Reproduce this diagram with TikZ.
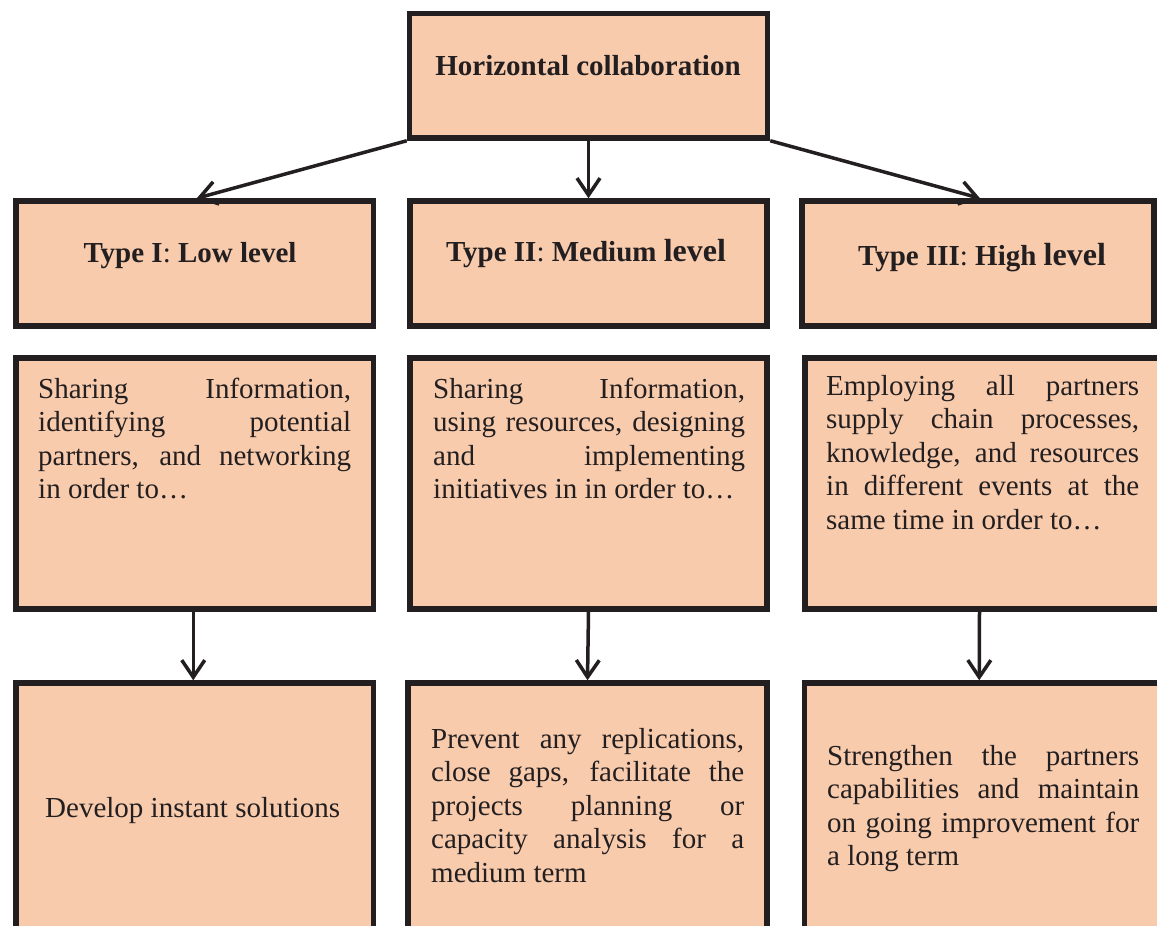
\documentclass[tikz,border=0pt]{standalone}
\usepackage{fontspec}
\setmainfont{Liberation Serif}
\usetikzlibrary{arrows.meta}
\definecolor{boxfill}{HTML}{F8CBAD}
\definecolor{ink}{HTML}{231F20}
\hyphenpenalty=10000
\exhyphenpenalty=10000
\tikzset{
  panel/.style={draw=ink, fill=boxfill, line width=5.5pt, rectangle, inner sep=0pt},
  arr/.style={draw=ink, line width=3.5pt, -{Straight Barb[length=17pt,width=23pt]}},
  head/.style={inner sep=0pt, text=ink, font=\fontsize{29}{33.5}\selectfont\bfseries, anchor=base},
  body/.style={inner sep=0pt, text=ink, anchor=north west, text width=313pt, align=justify,
               font=\fontsize{29}{33.5}\selectfont},
}
\newcommand{\bigword}[1]{{\fontsize{32}{33.5}\selectfont #1}}
\begin{document}
\begin{tikzpicture}[x=1pt,y=-1pt]
  \clip (0,0) rectangle (1157,926);
  \fill[white] (0,0) rectangle (1157,926);

  % top box
  \node[panel, minimum width=358pt, minimum height=124.5pt] (top) at (588.5,75.75) {};
  % level boxes
  \node[panel, minimum width=357.5pt, minimum height=125pt] (t1) at (194.75,263.5) {};
  \node[panel, minimum width=357pt, minimum height=125pt] (t2) at (588.5,263.5) {};
  \node[panel, minimum width=352pt, minimum height=125pt] (t3) at (978,263.5) {};
  % activity boxes
  \node[panel, minimum width=357.5pt, minimum height=251pt] (a1) at (194.75,483.5) {};
  \node[panel, minimum width=357pt, minimum height=251pt] (a2) at (588.5,483.5) {};
  \node[panel, minimum width=359pt, minimum height=251pt] (a3) at (984.5,483.5) {};
  % outcome boxes
  \node[panel, minimum width=357.5pt, minimum height=257pt] (o1) at (194.75,811.5) {};
  \node[panel, minimum width=359pt, minimum height=257pt] (o2) at (587.5,811.5) {};
  \node[panel, minimum width=359.5pt, minimum height=257pt] (o3) at (984.25,811.5) {};

  % texts
  \node[head] (toptxt) at (588,75) {Horizontal collaboration};
  \node[head] (t1txt) at (190,262) {Type I{\mdseries:} Low level};
  \node[head] (t2txt) at (586,261) {Type II{\mdseries:} Medium \bigword{level}};
  \node[head] (t3txt) at (982,265) {Type III{\mdseries:} High \bigword{level}};

  \node[body] (a1txt) at (38,374.5) {\strut Sharing Information,\linebreak identifying potential\linebreak partners, and networking\linebreak in order to…};
  \node[body, text width=312pt] (a2txt) at (433,374.5) {\strut Sharing Information,\linebreak using resources, designing\linebreak and implementing\linebreak initiatives in in order to…};
  \node[body] (a3txt) at (826,371.5) {\strut Employing all partners\linebreak supply chain processes,\linebreak knowledge, and resources\linebreak in different events at the\linebreak same time in order to…};

  \node[inner sep=0pt, text=ink, anchor=base west, font=\fontsize{29}{33.5}\selectfont] (o1txt) at (45,817) {Develop instant solutions};
  \node[body] (o2txt) at (431,724.5) {\strut Prevent any replications,\linebreak close gaps, facilitate the\linebreak projects planning or\linebreak capacity analysis for a\linebreak medium term};
  \node[body, text width=312pt] (o3txt) at (827,741.5) {\strut Strengthen the partners\linebreak capabilities and maintain\linebreak on going improvement for\linebreak a long term};

  % connectors
  \draw[arr] (top.south west) -- ([xshift=2pt]t1.north);
  \draw[arr] (top.south) -- (t2.north);
  \draw[arr] (top.south east) -- ([xshift=2pt]t3.north);
  \draw[arr] ([xshift=-1.5pt]a1.south) -- ([xshift=-1.5pt]o1.north);
  \draw[arr] (a2.south) -- (o2.north);
  \draw[arr] ([xshift=-5pt]a3.south) -- ([xshift=-5pt]o3.north);
\end{tikzpicture}
\end{document}
